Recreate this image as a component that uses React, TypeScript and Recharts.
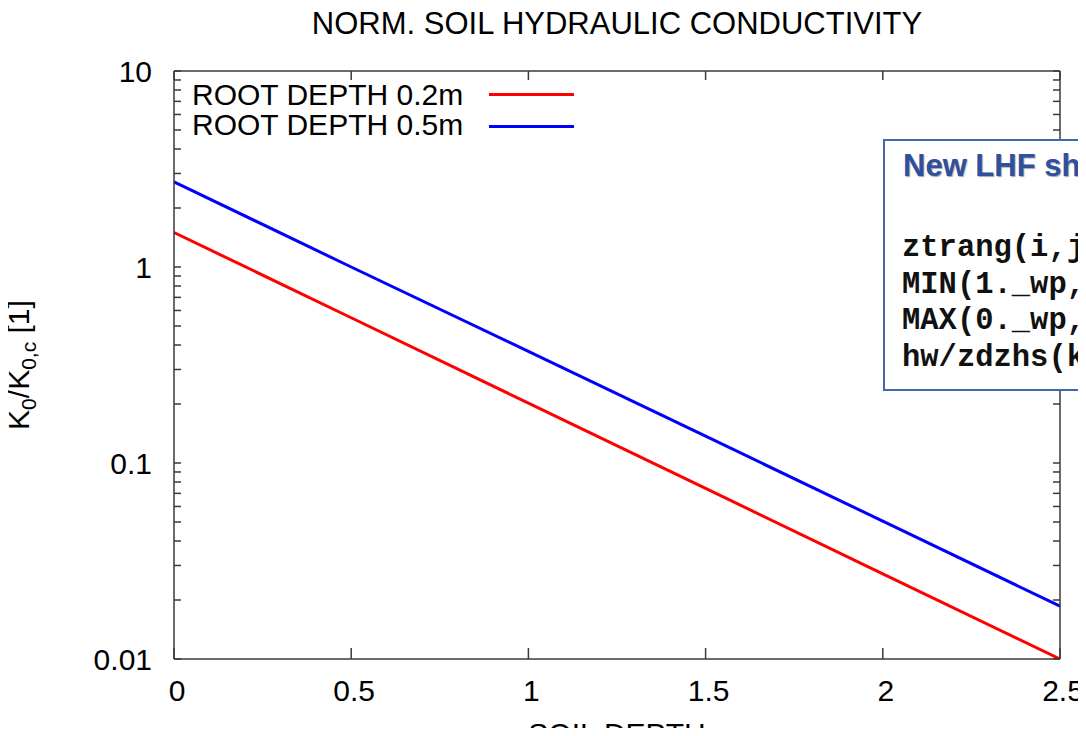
import { Legend, Line, LineChart, XAxis, YAxis } from "recharts"

// soil depth (m) and normalised conductivity
const depth = [0, 0.5, 1, 1.5, 2, 2.5]
const root02 = [1.5, 0.551, 0.202, 0.0742, 0.0272, 0.01]
const root05 = [2.72, 1.0, 0.371, 0.137, 0.0505, 0.0186]

const xTicks = [0, 0.5, 1, 1.5, 2, 2.5]
const yMajor = [0.01, 0.1, 1, 10]
const yMinorSteps = [2, 3, 4, 5, 6, 7, 8, 9]

const codeLines = ["ztrang(i,j) =", "MIN(1._wp,", "MAX(0._wp,", "hw/zdzhs(ke)"]

const data = depth.map((d, i) => ({ depth: d, r02: root02[i], r05: root05[i] }))

const yTicks: number[] = []
yMajor.forEach((m, i) => {
  yTicks.push(m)
  if (i < yMajor.length - 1) yMinorSteps.forEach((s) => yTicks.push(+(m * s).toPrecision(3)))
})

const sans = '"Liberation Sans", Arial, sans-serif'
const mono = '"Liberation Mono", "Courier New", monospace'
const frame = "#3a3a3a"

const tickStyle = { fill: "#000", fontSize: 30, fontFamily: sans }

function LegendBox({ payload }: any) {
  return (
    <div style={{ position: "relative", width: 0, height: 0 }}>
      {(payload || []).map((p: any, i: number) => (
        <div key={i}>
          <div
            style={{
              position: "absolute",
              left: 192,
              top: 80 + i * 30,
              fontFamily: sans,
              fontSize: 30,
              lineHeight: "30px",
              whiteSpace: "nowrap",
              color: "#000",
            }}
          >
            {p.value}
          </div>
          <div
            style={{
              position: "absolute",
              left: 489,
              top: 93 + i * 32,
              width: 85,
              borderTop: `3px solid ${p.color}`,
            }}
          />
        </div>
      ))}
    </div>
  )
}

export default function App() {
  return (
    <div
      style={{
        position: "relative",
        width: 1086,
        height: 736,
        margin: -8,
        overflow: "hidden",
        background: "#fff",
        fontFamily: sans,
      }}
    >
      <LineChart width={1086} height={736} data={data} margin={{ top: 70, right: 25, bottom: 0, left: 0 }}>
        <XAxis
          dataKey="depth"
          type="number"
          domain={[0, 2.5]}
          ticks={xTicks}
          height={77}
          tickSize={-11}
          tickMargin={32}
          tick={{ ...tickStyle, dx: 3 }}
          axisLine={{ stroke: frame, strokeWidth: 1.5 }}
          tickLine={{ stroke: frame, strokeWidth: 1.5 }}
        />
        <XAxis
          xAxisId="top"
          orientation="top"
          dataKey="depth"
          type="number"
          domain={[0, 2.5]}
          ticks={xTicks}
          height={1}
          tickSize={-9}
          tickFormatter={() => ""}
          axisLine={{ stroke: frame, strokeWidth: 1.5 }}
          tickLine={{ stroke: frame, strokeWidth: 1.5 }}
        />
        <YAxis
          scale="log"
          type="number"
          domain={[0.01, 10]}
          allowDataOverflow
          ticks={yTicks}
          interval={0}
          width={174}
          tickSize={-7}
          tickMargin={29}
          tick={tickStyle}
          tickFormatter={(v: number) => (yMajor.includes(v) ? String(v) : "")}
          axisLine={{ stroke: frame, strokeWidth: 1.5 }}
          tickLine={{ stroke: frame, strokeWidth: 1.5 }}
        />
        <YAxis
          yAxisId="right"
          orientation="right"
          scale="log"
          type="number"
          domain={[0.01, 10]}
          allowDataOverflow
          ticks={yTicks}
          interval={0}
          width={1}
          tickSize={-7}
          tickFormatter={() => ""}
          axisLine={{ stroke: frame, strokeWidth: 1.5 }}
          tickLine={{ stroke: frame, strokeWidth: 1.5 }}
        />
        <Legend
          layout="vertical"
          align="center"
          verticalAlign="middle"
          wrapperStyle={{ left: 0, top: 0, width: 0, height: 0 }}
          content={(props: any) => <LegendBox {...props} />}
        />
        <Line
          dataKey="r02"
          name="ROOT DEPTH 0.2m"
          stroke="#ff0000"
          strokeWidth={3}
          dot={false}
          isAnimationActive={false}
        />
        <Line
          dataKey="r05"
          name="ROOT DEPTH 0.5m"
          stroke="#0000ff"
          strokeWidth={3}
          dot={false}
          isAnimationActive={false}
        />
      </LineChart>

      <div
        style={{
          position: "absolute",
          left: 174,
          width: 886,
          top: 9,
          textAlign: "center",
          fontSize: 31,
          lineHeight: "30px",
          color: "#000",
        }}
      >
        NORM. SOIL HYDRAULIC CONDUCTIVITY
      </div>

      <div
        style={{
          position: "absolute",
          left: 174,
          width: 886,
          top: 719,
          textAlign: "center",
          fontSize: 30,
          lineHeight: "30px",
          color: "#000",
        }}
      >
        SOIL DEPTH
      </div>

      <div
        style={{
          position: "absolute",
          left: 24,
          top: 365,
          transform: "translate(-50%, -50%) rotate(-90deg)",
          whiteSpace: "nowrap",
          fontSize: 30,
          lineHeight: "30px",
          color: "#000",
        }}
      >
        K<span style={{ fontSize: 21, verticalAlign: "-0.3em" }}>0</span>/K
        <span style={{ fontSize: 21, verticalAlign: "-0.3em" }}>0,c</span> [1]
      </div>

      <div
        style={{
          position: "absolute",
          left: 883,
          top: 139,
          width: 320,
          height: 252,
          boxSizing: "border-box",
          border: "2px solid #4466ad",
          background: "#fff",
        }}
      />
      <div
        style={{
          position: "absolute",
          left: 903,
          top: 150,
          fontSize: 31,
          lineHeight: "31px",
          fontWeight: "bold",
          color: "#2f509e",
          whiteSpace: "nowrap",
          textShadow: "1px 1px 1px rgba(0,0,0,0.35)",
        }}
      >
        New LHF shape
      </div>
      {codeLines.map((line, i) => (
        <div
          key={i}
          style={{
            position: "absolute",
            left: 902,
            top: 233 + i * 36.5,
            fontFamily: mono,
            fontSize: 30.5,
            lineHeight: "30px",
            fontWeight: "bold",
            color: "#111",
            whiteSpace: "pre",
          }}
        >
          {line}
        </div>
      ))}
    </div>
  )
}
